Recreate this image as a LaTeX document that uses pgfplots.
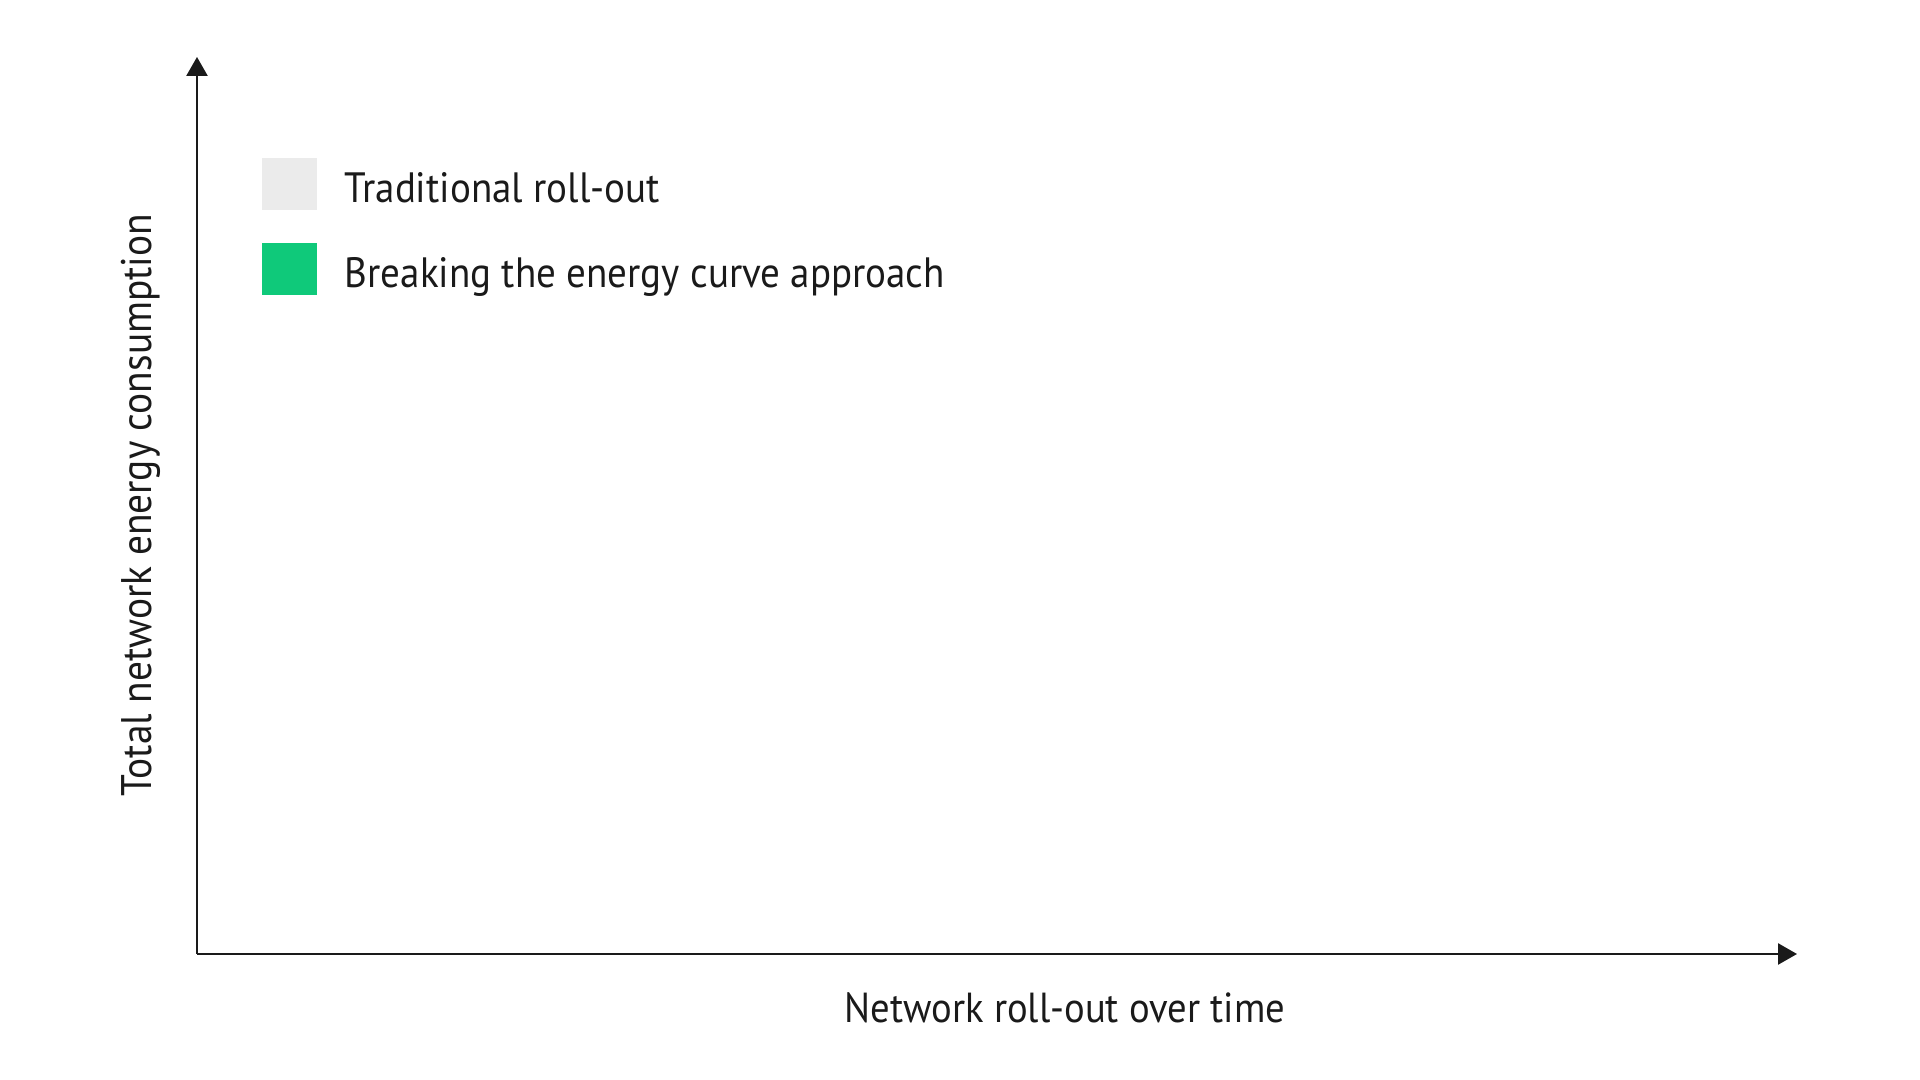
\documentclass[border=0pt]{standalone}
\usepackage{fontspec}
\setmainfont[FakeStretch=0.92]{PT Sans}
\usepackage{pgfplots}
\pgfplotsset{compat=1.18}
\usetikzlibrary{arrows.meta}
\definecolor{tradgray}{HTML}{EBEBEB}
\definecolor{ecogreen}{HTML}{0FC97A}
\definecolor{axisdark}{HTML}{1A1A1A}
\begin{document}
\begin{tikzpicture}
\useasboundingbox (0pt,0pt) rectangle (960pt,540pt);
\begin{axis}[
  at={(98.5pt,63pt)}, anchor=origin,
  scale only axis, width=800pt, height=448.5pt,
  xmin=0, xmax=800, ymin=0, ymax=448.5,
  axis lines=left,
  axis line style={line width=1.3pt, axisdark, -{Triangle[width=10.5pt,length=9.5pt]}},
  xtick=\empty, ytick=\empty,
  font=\fontsize{21}{25}\selectfont,
  xlabel={Network roll-out over time},
  ylabel={Total network energy consumption},
  xlabel style={at={(axis cs:434,-27)}, anchor=center, text=axisdark},
  ylabel style={at={(axis cs:-28,224.5)}, anchor=center, text=axisdark, font=\fontsize{21.4}{25}\selectfont},
  legend style={at={(axis cs:32.5,398)}, anchor=north west, draw=none, fill=none,
    inner sep=0pt, outer sep=0pt, row sep=16.5pt, column sep=14pt,
    nodes={inner sep=0pt, anchor=west, text=axisdark, text depth=0pt},
    font=\fontsize{21.2}{25}\selectfont},
  legend cell align=left,
]
\addlegendimage{legend image code/.code={\fill[tradgray] (0pt,-12.75pt) rectangle (27pt,12.75pt);}}
\addlegendentry{\raisebox{-3.6pt}{Traditional roll-out}}
\addlegendimage{legend image code/.code={\fill[ecogreen] (0pt,-12.75pt) rectangle (27pt,12.75pt);}}
\addlegendentry{\raisebox{-3.6pt}{Breaking the energy curve approach}}
\end{axis}
\end{tikzpicture}
\end{document}
